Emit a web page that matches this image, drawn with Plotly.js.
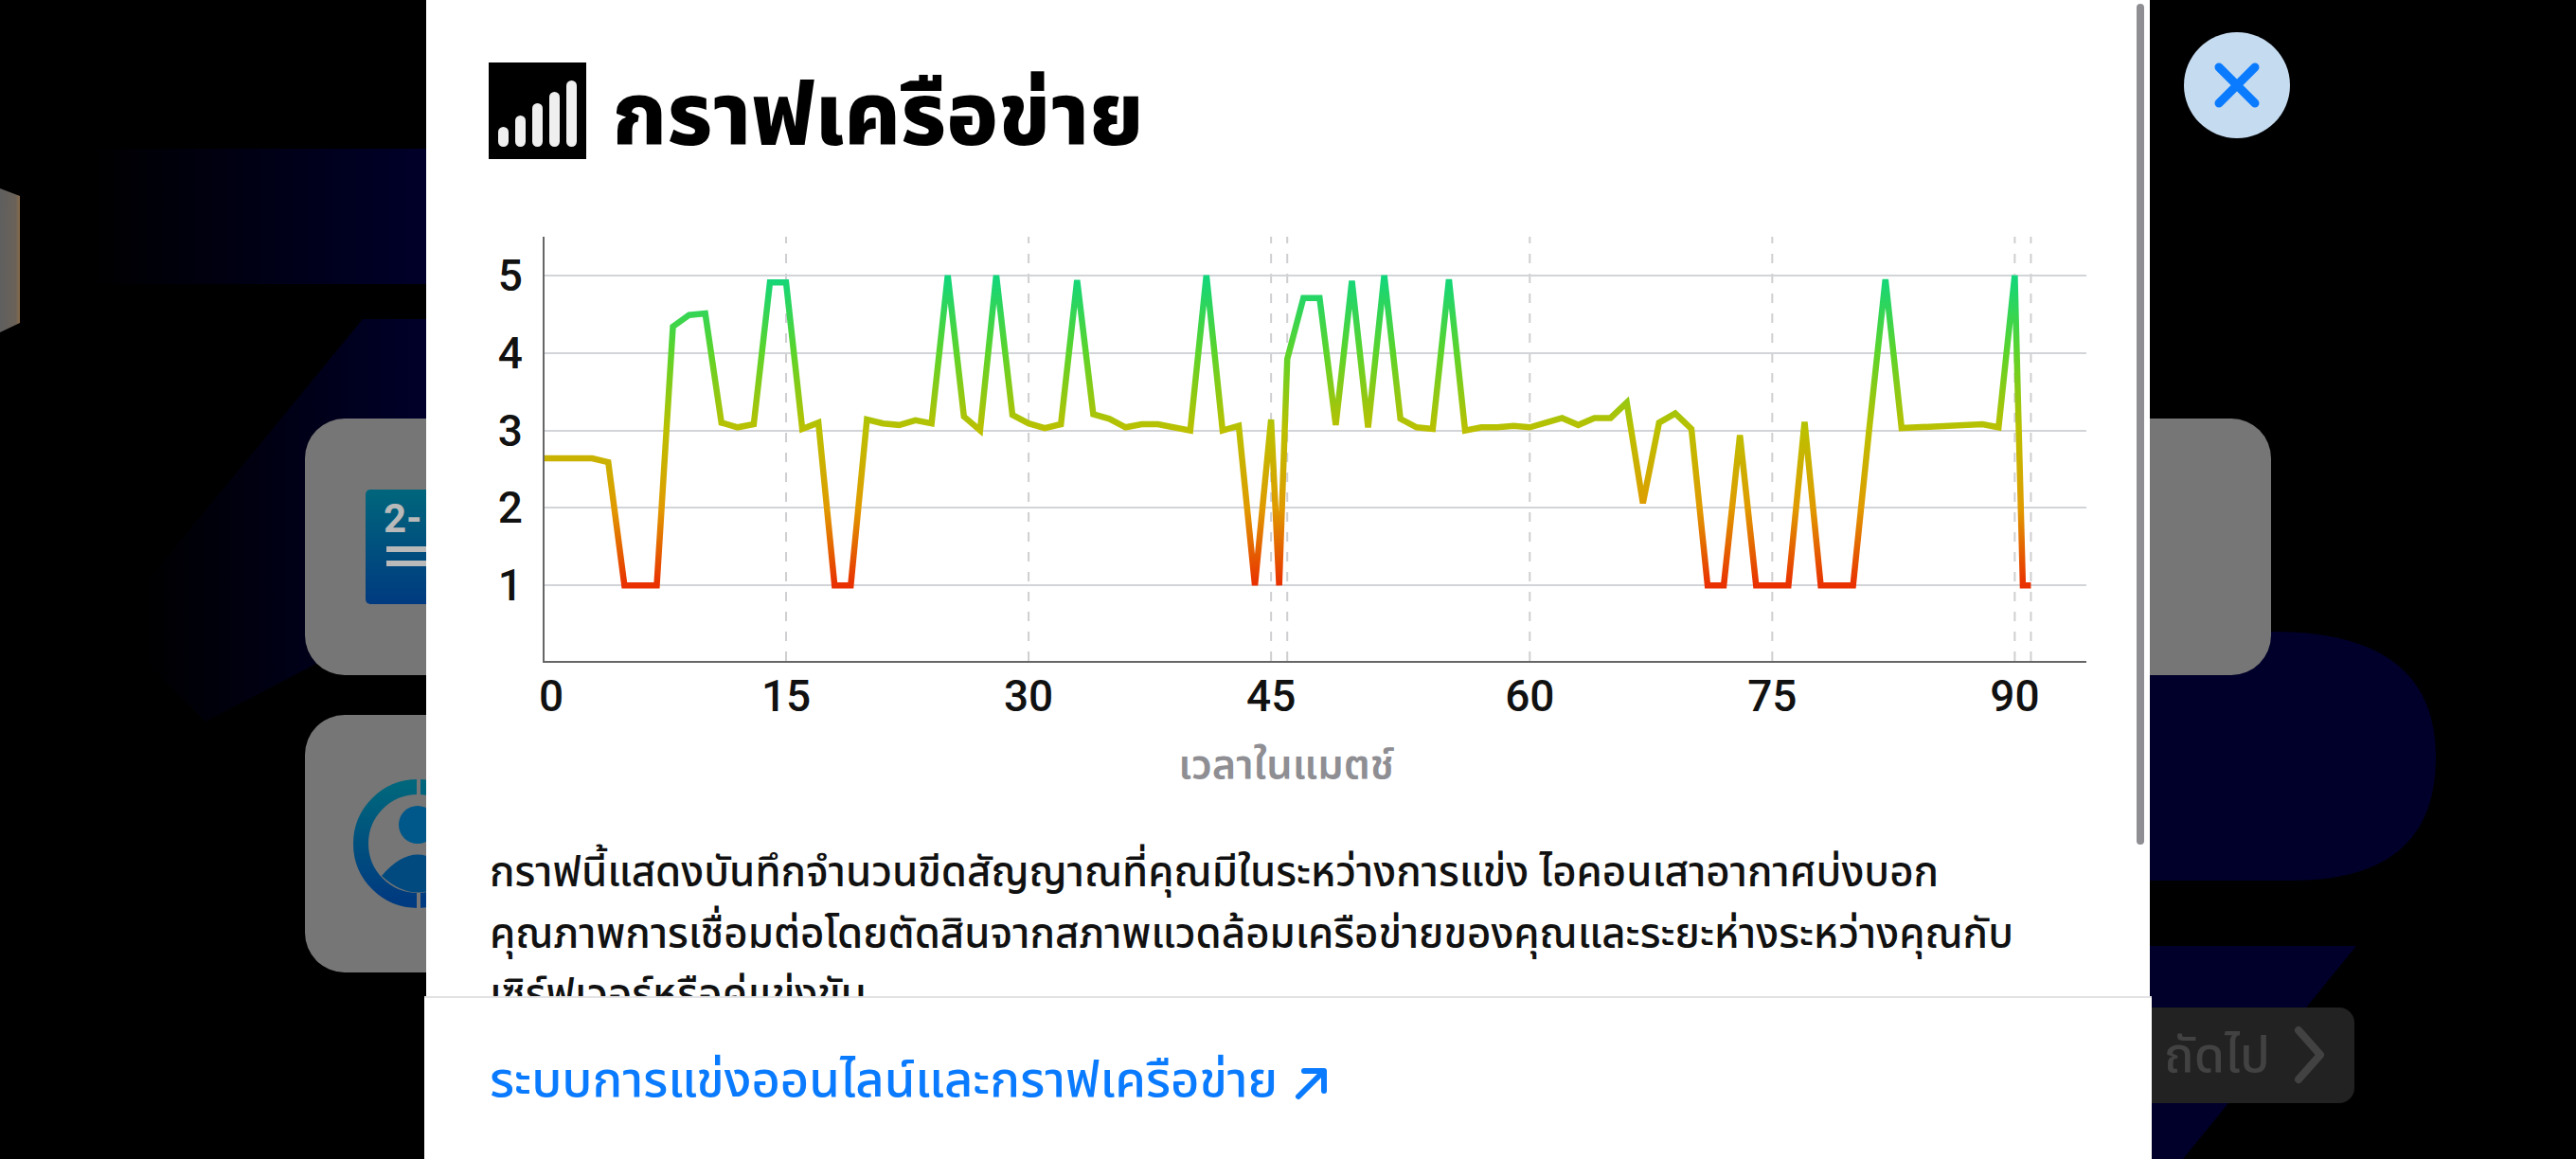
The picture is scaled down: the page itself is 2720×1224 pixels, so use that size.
<!DOCTYPE html>
<html lang="th">
<head>
<meta charset="utf-8">
<script src="https://cdn.plot.ly/plotly-3.0.1.min.js"></script>
<style>
html,body{margin:0;padding:0;background:#000;width:2720px;height:1224px;overflow:hidden}
body{font-family:"Noto Sans Thai","Noto Sans Thai Looped","Noto Sans",Roboto,"DejaVu Sans",sans-serif}
#decor{position:absolute;left:0;top:0;z-index:0}
#chart{position:absolute;left:0;top:0;width:2720px;height:1224px;z-index:2}
.para{position:absolute;left:517px;top:891px;width:1740px;z-index:1;font-size:43.8px;line-height:64.5px;font-weight:500;color:#111;white-space:nowrap}
#footer{position:absolute;left:448px;top:1052px;width:1824px;height:172px;background:#fff;border-top:2px solid #e2e2e4;box-sizing:border-box;z-index:3}
#link{position:absolute;left:69px;top:58px;font-size:52.5px;line-height:60px;font-weight:500;color:#0a7bff;white-space:nowrap}
#next{position:absolute;left:2285px;top:1086px;font-size:52px;line-height:60px;font-weight:500;color:#424242;z-index:1;white-space:nowrap}
</style>
</head>
<body>
<svg id="decor" width="2720" height="1224" xmlns="http://www.w3.org/2000/svg">
  <defs>
    <linearGradient id="navyL" x1="0" x2="1" y1="0" y2="0"><stop offset="0" stop-color="#000"/><stop offset="1" stop-color="#00002a"/></linearGradient>
    <linearGradient id="iconG" x1="0" x2="0" y1="0" y2="1"><stop offset="0" stop-color="#00667c"/><stop offset="1" stop-color="#003a80"/></linearGradient>
    <linearGradient id="hexG" x1="0" x2="1" y1="0" y2="0"><stop offset="0" stop-color="#5f5f5f"/><stop offset="0.8" stop-color="#6a6258"/><stop offset="1" stop-color="#8a6c48"/></linearGradient>
  </defs>
  <rect width="2720" height="1224" fill="#000"/>
  <rect x="90" y="157" width="360" height="143" fill="url(#navyL)"/>
  <polygon points="383,337 450,337 450,640 217,762 147,693 147,624" fill="url(#navyL)"/>
  <polygon points="0,199 21,207 21,341 0,351" fill="url(#hexG)"/>
  <rect x="322" y="442" width="200" height="271" rx="42" fill="#767676"/>
  <rect x="322" y="755" width="200" height="272" rx="42" fill="#767676"/>
  <rect x="386" y="517" width="80" height="121" rx="5" fill="url(#iconG)"/>
  <text x="405" y="562" font-family="Roboto" font-weight="700" font-size="42" fill="#b9b9b9">2-</text>
  <rect x="408" y="577" width="60" height="6" fill="#b9b9b9"/><rect x="408" y="592" width="60" height="6" fill="#b9b9b9"/>
  <circle cx="441" cy="891" r="60" fill="none" stroke="url(#iconG)" stroke-width="16"/>
  <rect x="440" y="818" width="4" height="22" fill="#767676"/><rect x="440" y="940" width="4" height="22" fill="#767676"/>
  <circle cx="441" cy="871" r="20" fill="#00588a"/>
  <path d="M403 925 Q441 880 479 925 Q441 960 403 925 Z" fill="#004a80"/>
  <path d="M2270 667 H2400 Q2572 667 2572 800 Q2572 930 2420 930 H2270 Z" fill="#00002a"/>
  <polygon points="2270,999 2488,999 2305,1224 2270,1224" fill="#00002a"/>
  <rect x="2200" y="442" width="198" height="271" rx="42" fill="#767676"/>
  <rect x="2200" y="1064" width="286" height="101" rx="16" fill="#222"/>
  <path d="M2427 1088 L2450 1114 L2427 1140" fill="none" stroke="#424242" stroke-width="8" stroke-linecap="round" stroke-linejoin="round"/>
  <circle cx="2362" cy="90" r="56" fill="#c5dbf0"/>
  <path d="M2343 71 L2381 109 M2381 71 L2343 109" stroke="#0a7bff" stroke-width="9" stroke-linecap="round"/>
  <rect x="450" y="0" width="1820" height="1224" fill="#fff"/>
  <rect x="2256" y="4" width="8" height="888" rx="4" fill="#8e8e93"/>
  <rect x="516" y="66" width="103" height="102" fill="#000"/>
  <g fill="#efefef">
    <rect x="526" y="134" width="11" height="21" rx="5.5"/>
    <rect x="544" y="122" width="11" height="33" rx="5.5"/>
    <rect x="562" y="109" width="11" height="46" rx="5.5"/>
    <rect x="580" y="97" width="11" height="58" rx="5.5"/>
    <rect x="598" y="85" width="11" height="70" rx="5.5"/>
  </g>
</svg>
<div id="next">ถัดไป</div>
<div class="para">กราฟนี้แสดงบันทึกจำนวนขีดสัญญาณที่คุณมีในระหว่างการแข่ง ไอคอนเสาอากาศบ่งบอก<br>คุณภาพการเชื่อมต่อโดยตัดสินจากสภาพแวดล้อมเครือข่ายของคุณและระยะห่างระหว่างคุณกับ<br>เซิร์ฟเวอร์หรือคู่แข่งขัน</div>
<div id="chart"></div>
<div id="footer"><div id="link">ระบบการแข่งออนไลน์และกราฟเครือข่าย</div>
<svg style="position:absolute;left:917px;top:70px" width="40" height="40"><path d="M6 34 L32 8 M12 7 H33 V28" fill="none" stroke="#0a7bff" stroke-width="6" stroke-linecap="round" stroke-linejoin="round"/></svg></div>
<script>
const chartTitle = "กราฟเครือข่าย";
const xAxisTitle = "เวลาในแมตช์";
const timeIndex = [0,1,2,3,4,5,6,7,8,9,10,11,12,13,14,15,16,17,18,19,20,21,22,23,24,25,26,27,28,29,30,31,32,33,34,35,36,37,38,39,40,41,42,43,44,45,45.5,46,47,48,49,50,51,52,53,54,55,56,57,58,59,60,61,62,63,64,65,66,67,68,69,70,71,72,73,74,75,76,77,78,79,80,81,82,83,84,85,86,87,88,89,90,91,91.5,92];
const signalBars = [2.64,2.64,2.64,2.64,2.59,1,1,1,4.34,4.49,4.51,3.10,3.04,3.08,4.91,4.91,3.02,3.10,1,1,3.14,3.09,3.07,3.13,3.09,5,3.18,3.0,5,3.2,3.09,3.03,3.08,4.94,3.21,3.15,3.04,3.08,3.08,3.04,3.0,5,3.0,3.06,1,3.14,1,3.92,4.71,4.71,3.07,4.93,3.04,5,3.15,3.04,3.02,4.95,3.0,3.04,3.04,3.06,3.04,3.10,3.16,3.07,3.16,3.16,3.36,2.06,3.10,3.22,3.02,1,1,2.94,1,1,1,3.11,1,1,1,3.02,4.95,3.03,3.04,3.04,3.05,3.06,3.08,3.04,5,1,1];
const xTickVals = [0.47,15,30,45,61,76,91];
const xTickText = ["0","15","30","45","60","75","90"];
const yTickVals = [1,2,3,4,5];
const periodMarks = [15,30,45,46,61,76,91,92];
const gradientLevels = [5,4,3,2,1];
const gradientColors = ["#10d67c","#5cd42a","#bcc000","#e09b00","#e93000"];

const shapes = periodMarks.map(v => ({type:"line",xref:"x",yref:"paper",x0:v,x1:v,y0:0,y1:1,layer:"below",
  line:{color:"#cfcfd1",width:2,dash:"10px,11px"}}));

const tickFont = {family:'Roboto,"Noto Sans",sans-serif',size:46,weight:500,color:"#111"};
const layout = {
  width:2720,height:1224,
  paper_bgcolor:"rgba(0,0,0,0)",plot_bgcolor:"rgba(0,0,0,0)",
  margin:{l:575,r:517,t:250,b:526,pad:0},
  showlegend:false,
  title:{text:chartTitle,xref:"container",yref:"container",x:646/2720,xanchor:"left",y:1-121/1224,yanchor:"middle",
    font:{family:'"Noto Sans Thai","Noto Sans",sans-serif',size:91.5,weight:800,color:"#000"}},
  xaxis:{range:[0.06,95.43],tickvals:xTickVals,ticktext:xTickText,tickfont:tickFont,showgrid:false,zeroline:false,
    showline:true,linecolor:"#666",linewidth:2,ticks:"",ticklabelstandoff:-4,automargin:false,
    title:{text:xAxisTitle,standoff:30,font:{family:'"Noto Sans Thai","Noto Sans",sans-serif',size:43.3,weight:600,color:"#8e8e93"}}},
  yaxis:{range:[0.025,5.5],tickvals:yTickVals,tickfont:tickFont,showgrid:true,gridcolor:"#d2d4d8",gridwidth:2,zeroline:false,
    showline:true,linecolor:"#666",linewidth:2,ticks:"outside",ticklen:12,tickcolor:"rgba(0,0,0,0)",automargin:false},
  shapes:shapes
};
const trace = {type:"scatter",mode:"lines",x:timeIndex,y:signalBars,hoverinfo:"skip",
  line:{color:"#bcc000",width:6.5,shape:"linear"}};

Plotly.newPlot("chart",[trace],layout,{displayModeBar:false,staticPlot:true}).then(gd => {
  const ya = gd._fullLayout.yaxis;
  const svg = gd.querySelector("svg.main-svg");
  const NS = "http://www.w3.org/2000/svg";
  const grad = document.createElementNS(NS,"linearGradient");
  grad.setAttribute("id","signalGradient");
  grad.setAttribute("gradientUnits","userSpaceOnUse");
  grad.setAttribute("x1","0");grad.setAttribute("x2","0");
  grad.setAttribute("y1",ya.r2p(gradientLevels[0]));
  grad.setAttribute("y2",ya.r2p(gradientLevels[gradientLevels.length-1]));
  gradientLevels.forEach((lv,i)=>{
    const s=document.createElementNS(NS,"stop");
    s.setAttribute("offset",(gradientLevels[0]-lv)/(gradientLevels[0]-gradientLevels[gradientLevels.length-1]));
    s.setAttribute("stop-color",gradientColors[i]);
    grad.appendChild(s);
  });
  svg.querySelector("defs").appendChild(grad);
  gd.querySelectorAll(".scatterlayer .js-line").forEach(p=>{p.style.stroke="url(#signalGradient)";p.style.strokeLinejoin="miter";p.style.strokeMiterlimit="4";});
  const xt = gd.querySelector(".xtitle");
  if (xt) { xt.setAttribute("x", 1358); }
});
</script>
</body>
</html>
